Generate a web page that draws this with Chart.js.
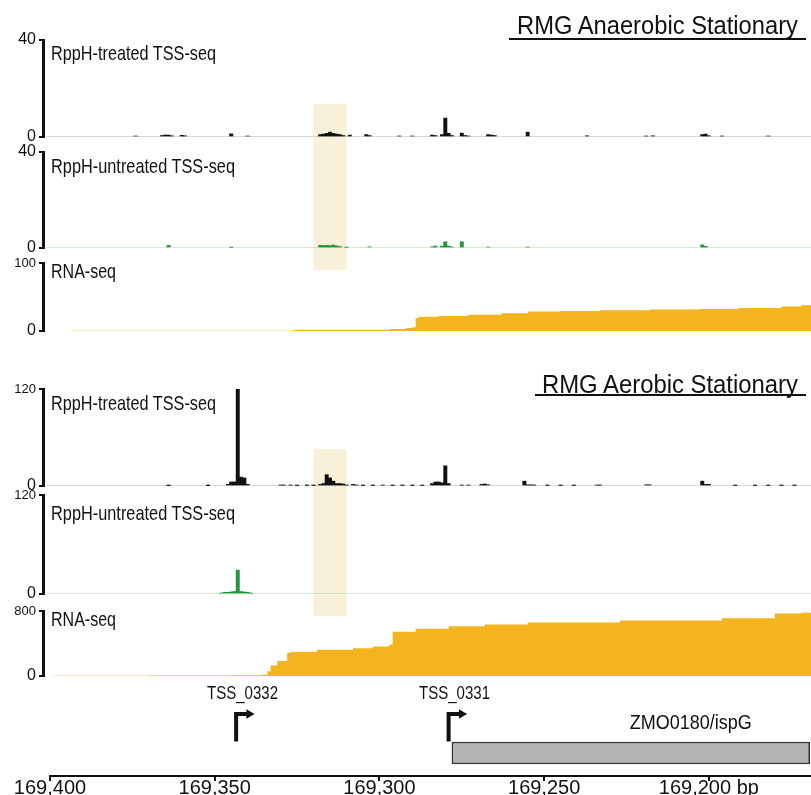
<!DOCTYPE html>
<html><head><meta charset="utf-8">
<script src="https://cdn.jsdelivr.net/npm/chart.js@4.4.1/dist/chart.umd.min.js"></script>
<style>
html,body{margin:0;padding:0;background:#fff;}
#wrap{position:relative;width:811px;height:795px;overflow:hidden;background:#fff;}
#c{position:absolute;left:0;top:0;}
.lbl{position:absolute;white-space:nowrap;font-family:"Liberation Sans",Arial,sans-serif;line-height:1;color:#111;}
.rule{position:absolute;background:#111;height:2px;}
</style></head><body>
<div id="wrap"><canvas id="c" width="811" height="795"></canvas></div>
<script>
// ---------------- data ----------------
const xTicks = [169400, 169350, 169300, 169250, 169200];
const anaTssMax = 40, anaRnaMax = 100, aerTssMax = 120, aerRnaMax = 800;

const anaTreatedPos = [169374,169366,169365,169364,169363,169360,169359,169345,169340,169318,169317,169316,169315,169314,169313,169312,169311,169309,169304,169303,169294,169290,169284,169283,169281,169280,169279,169278,169275,169274,169273,169267,169266,169265,169255,169237,169219,169217,169202,169201,169200,169196,169182];
const anaTreatedVal = [0.4,0.6,0.8,0.8,0.5,0.7,0.5,1.3,0.4,1.0,1.2,1.5,2.0,1.5,1.2,1.0,0.6,0.8,1.0,0.6,0.4,0.4,0.8,0.6,1.0,7.8,1.5,0.6,1.6,0.6,0.4,1.0,0.8,0.6,2.0,0.5,0.4,0.5,1.0,1.2,0.5,0.4,0.4];

const anaUntreatedPos = [169364,169345,169318,169317,169316,169315,169314,169313,169312,169310,169303,169284,169283,169281,169280,169279,169278,169275,169267,169255,169202,169201];
const anaUntreatedVal = [1.1,0.3,1.1,1.0,1.1,1.0,1.2,0.9,0.6,0.3,0.5,0.5,0.8,0.8,2.6,0.8,0.4,2.6,0.4,0.4,1.3,0.7];

const anaRnaPos = [169394,169326,169297,169292,169290,169289,169288,169282,169273,169263,169255,169245,169233,169218,169203,169191,169178,169172,169169];
const anaRnaVal = [0.5,1.8,3,4.5,5.5,19,21,22,24,26,28.5,29.5,30.5,31.5,32.5,34,36,38,38];

const aerTreatedPos = [169364,169352,169346,169345,169344,169343,169342,169341,169340,169330,169329,169327,169325,169322,169320,169318,169317,169316,169315,169314,169313,169312,169311,169310,169308,169307,169305,169302,169299,169296,169293,169290,169287,169284,169283,169282,169281,169280,169279,169275,169273,169269,169268,169267,169256,169255,169254,169253,169249,169245,169241,169234,169233,169219,169218,169202,169201,169200,169192,169186,169182,169178,169174];
const aerTreatedVal = [0.4,0.4,2,5,5,121,11,10,2,1,1,1,0.6,0.6,0.6,2,3,14,10,6,3,3,2.5,1,2,1,0.6,0.6,1,0.6,0.6,0.6,0.6,3,5,5,4,25,3,1,1,2,2.5,1.5,6,1.5,1.5,1,0.6,0.6,0.6,1,1,1.5,1.5,6,2,2,0.6,0.6,0.6,0.6,0.6];

const aerUntreatedPos = [169348,169347,169346,169345,169344,169343,169342,169341,169340,169339];
const aerUntreatedVal = [1,2,2,2.5,3,29,3,2.5,2,1];

const aerRnaPos = [169399,169370,169345,169336,169334,169333,169331,169328,169327,169319,169308,169302,169297,169296,169289,169279,169268,169255,169227,169196,169180,169172,169169];
const aerRnaVal = [4,6,9,14,60,128,186,283,295,322,342,362,388,544,582,613,633,660,683,711,769,780,780];

const tssNames = ['TSS_0332', 'TSS_0331'];
const tssPos = [169343.5, 169279];
const geneName = 'ZMO0180/ispG';
const geneStart = 169278, geneEnd = 169169.4;
const hlFrom = 169320, hlTo = 169310;

// ---------------- styling ----------------
const FONT = '"Liberation Sans", Arial, sans-serif';
const AXIS_W = 43;
const X_MIN = 169169, X_MAX = 169402.12;
const BLACK = '#111111', GREEN = '#22963a', RNA_COLOR = '#f4b41e', HL_COLOR = '#f8f0d8';

function pts(pos, val) { return pos.map((p, i) => ({x: p, y: val[i]})); }

function barsDS(pos, val, axis, color) {
  return {type: 'bar', data: pts(pos, val), xAxisID: 'x', yAxisID: axis, backgroundColor: color,
    borderWidth: 0, barThickness: 3.3, grouped: false, order: 1};
}
function baseDS(axis, color) {
  return {type: 'line', data: [{x: 169401, y: 0}, {x: X_MIN, y: 0}], xAxisID: 'x', yAxisID: axis,
    borderColor: color, borderWidth: 1, pointRadius: 0, fill: false, order: 6};
}
function rnaDS(pos, val, axis) {
  return {type: 'line', data: pts(pos, val), xAxisID: 'x', yAxisID: axis, stepped: 'before', fill: 'origin',
    backgroundColor: RNA_COLOR, borderColor: 'rgba(0,0,0,0)', borderWidth: 1, pointRadius: 0, order: 2};
}

const ARM = 3.3, HEAD = 3.95;
const arrowSets = [];
tssPos.forEach(t => {
  arrowSets.push({type: 'line', data: [{x: t, y: 34.5}, {x: t, y: 62}, {x: t - ARM, y: 62}], xAxisID: 'x', yAxisID: 'g',
    borderColor: BLACK, borderWidth: 4, pointRadius: 0, fill: false, borderJoinStyle: 'miter', borderCapStyle: 'butt', order: 0});
  arrowSets.push({type: 'line', data: [{x: t - HEAD, y: 62}], xAxisID: 'x', yAxisID: 'g', showLine: false,
    pointStyle: 'triangle', rotation: 90, pointRadius: 5.5, pointBackgroundColor: BLACK, pointBorderWidth: 0, order: 0});
});

const datasets = [
  baseDS('tA', '#b0b0b0'), barsDS(anaTreatedPos, anaTreatedVal, 'tA', BLACK),
  baseDS('uA', '#a3dca3'), barsDS(anaUntreatedPos, anaUntreatedVal, 'uA', GREEN),
  rnaDS(anaRnaPos, anaRnaVal, 'rA'),
  baseDS('tB', '#b0b0b0'), barsDS(aerTreatedPos, aerTreatedVal, 'tB', BLACK),
  baseDS('uB', '#a3dca3'), barsDS(aerUntreatedPos, aerUntreatedVal, 'uB', GREEN),
  rnaDS(aerRnaPos, aerRnaVal, 'rB'),
  {type: 'bar', indexAxis: 'y', data: [{x: [geneStart, geneEnd], y: 23}], xAxisID: 'x', yAxisID: 'g',
    backgroundColor: '#b4b4b4', borderColor: '#333', borderWidth: 1.5, borderSkipped: false, barThickness: 22, grouped: false, order: 3},
  {type: 'line', data: [{x: 169400.3, y: 0}, {x: X_MIN, y: 0}], xAxisID: 'x', yAxisID: 'g', borderColor: BLACK,
    borderWidth: 2, pointRadius: 0, fill: false, clip: false, order: 0},
  ...arrowSets
];

// stacked track layout: [id, height weight, max]
const segs = [['tA', 97, anaTssMax], ['s1', 15], ['uA', 96, anaTssMax], ['s2', 15], ['rA', 68, anaRnaMax], ['s3', 58],
  ['tB', 97, aerTssMax], ['s4', 9], ['uB', 99, aerTssMax], ['s5', 17], ['rB', 65, aerRnaMax], ['g', 100]];

const scales = {
  x: {type: 'linear', position: 'bottom', reverse: true, min: X_MIN, max: X_MAX, offset: false,
    afterBuildTicks: s => { s.ticks = xTicks.map(v => ({value: v})); },
    afterFit: s => { s.height = 19; },
    grid: {display: true, drawOnChartArea: false, drawTicks: true, tickLength: 5, lineWidth: 2, color: BLACK, offset: false},
    border: {display: false},
    ticks: {padding: -3, color: BLACK, autoSkip: false, maxRotation: 0, font: {family: FONT, size: 20, lineHeight: 1},
      callback: (v, i, arr) => Number(v).toLocaleString('en-US') + (i === arr.length - 1 ? ' bp' : '')}
  }
};
segs.forEach((s, i) => {
  const [id, w, max] = s;
  const base = {type: 'linear', position: 'left', stack: 'tracks', stackWeight: w, weight: 100 - i, offset: false,
    afterFit: sc => { sc.width = AXIS_W; }};
  if (max !== undefined) {
    scales[id] = Object.assign(base, {min: 0, max: max,
      afterBuildTicks: sc => { sc.ticks = [{value: 0}, {value: max}]; },
      grid: {display: true, drawOnChartArea: false, drawTicks: true, tickLength: 4, lineWidth: 2, color: BLACK, offset: false},
      border: {display: true, width: 3, color: BLACK},
      ticks: {padding: 3, color: BLACK, autoSkip: false,
        font: ctx => ({family: FONT, size: (ctx.tick && ctx.tick.value === 0) ? 16 : (max >= 100 ? 13 : 16)}),
        callback: v => String(v)}
    });
  } else {
    scales[id] = Object.assign(base, {min: 0, max: 100, grid: {display: false, offset: false}, border: {display: false}, ticks: {display: false}});
  }
});

const hlPlugin = {
  id: 'hl',
  beforeDatasetsDraw(chart) {
    const {ctx} = chart, sc = chart.scales;
    const boxes = [['tA', 13.6, 'rA', 89.7], ['tB', 45.4, 'rB', 738]];
    const x1 = sc.x.getPixelForValue(hlFrom), x2 = sc.x.getPixelForValue(hlTo);
    ctx.save();
    ctx.fillStyle = HL_COLOR;
    boxes.forEach(b => {
      const y1 = sc[b[0]].getPixelForValue(b[1]), y2 = sc[b[2]].getPixelForValue(b[3]);
      ctx.fillRect(Math.min(x1, x2), y1, Math.abs(x2 - x1), y2 - y1);
    });
    ctx.restore();
  }
};

const chart = new Chart(document.getElementById('c'), {
  type: 'line',
  data: {datasets},
  options: {
    responsive: false, animation: false, events: [],
    layout: {autoPadding: false, padding: {top: 40, left: 0, right: 0, bottom: 0}},
    plugins: {legend: {display: false}, tooltip: {enabled: false}},
    scales
  },
  plugins: [hlPlugin]
});

// ---------------- text ----------------
const wrap = document.getElementById('wrap');
const CAP_OFF = 0.13;
function addLabel(text, x, capTop, size, width, anchor) {
  const el = document.createElement('div');
  el.className = 'lbl'; el.textContent = text; el.style.fontSize = size + 'px';
  wrap.appendChild(el);
  const w = el.getBoundingClientRect().width;
  el.style.top = (capTop - CAP_OFF * size) + 'px';
  if (anchor === 'center') { el.style.left = (x - w / 2) + 'px'; el.style.transformOrigin = '50% 0'; }
  else { el.style.left = x + 'px'; el.style.transformOrigin = '0 0'; }
  el.style.transform = 'scaleX(' + (width / w) + ')';
}
function addRule(left, top, width) {
  const el = document.createElement('div'); el.className = 'rule';
  el.style.left = left + 'px'; el.style.top = top + 'px'; el.style.width = width + 'px';
  wrap.appendChild(el);
}
addLabel('RMG Anaerobic Stationary', 517, 16, 25, 281);
addRule(509, 38.3, 297);
addLabel('RMG Aerobic Stationary', 542, 375, 25, 256);
addRule(535, 393.5, 271);
addLabel('RppH-treated TSS-seq', 51, 45, 21, 165);
addLabel('RppH-untreated TSS-seq', 51, 158, 21, 184);
addLabel('RNA-seq', 51, 263, 21, 65);
addLabel('RppH-treated TSS-seq', 51, 395, 21, 165);
addLabel('RppH-untreated TSS-seq', 51, 505, 21, 184);
addLabel('RNA-seq', 51, 611, 21, 65);
tssNames.forEach((n, i) => addLabel(n, chart.scales.x.getPixelForValue(tssPos[i]) + 6, 686, 18, 71, 'center'));
addLabel(geneName, 691, 715, 20, 122, 'center');
</script></body></html>
